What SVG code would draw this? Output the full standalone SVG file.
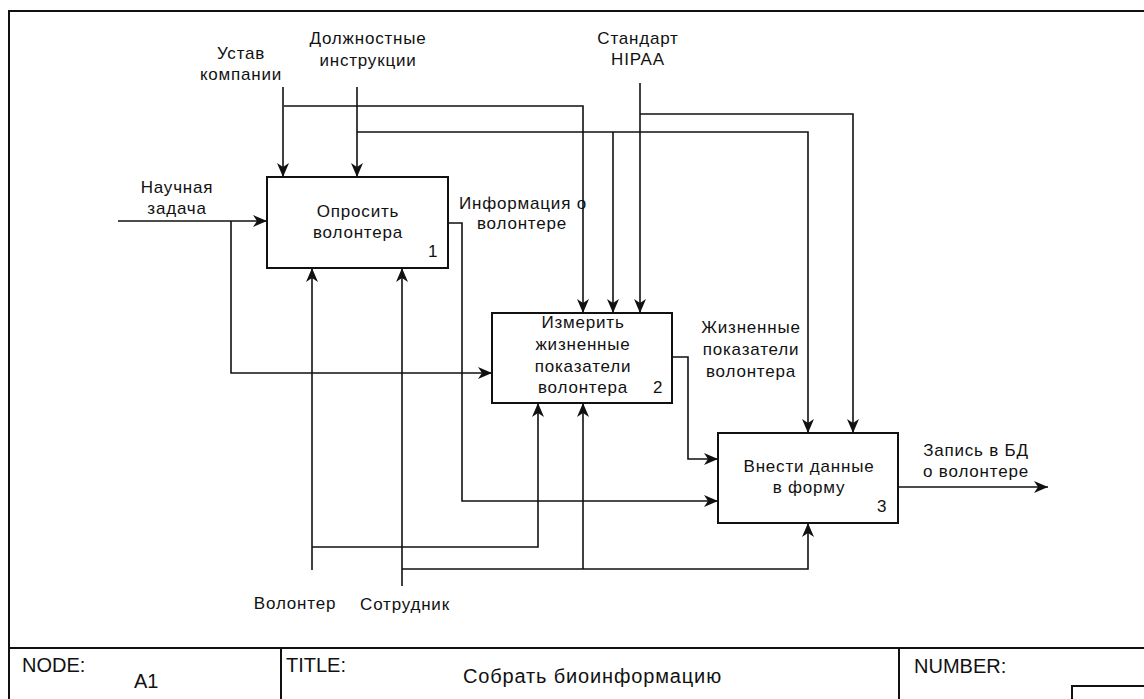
<svg xmlns="http://www.w3.org/2000/svg" width="1144" height="699" viewBox="0 0 1144 699">
  <style>
    text { font-family: "Liberation Sans", Arial, sans-serif; fill: #111; }
    .lbl { font-size: 17px; text-anchor: middle; letter-spacing: 0.8px; }
    .num { font-size: 17px; }
    .tb { font-size: 20px; }
    .ttl { letter-spacing: 0.85px; }
    .box { fill: #fff; stroke: #111; stroke-width: 2; }
    .frame { fill: none; stroke: #111; stroke-width: 2; }
    .wire { fill: none; stroke: #111; stroke-width: 1.6; }
    .arr { marker-end: url(#ah); }
  </style>
  <defs>
    <marker id="ah" markerUnits="userSpaceOnUse" markerWidth="14" markerHeight="12" viewBox="0 0 14 12" refX="14" refY="6" orient="auto">
      <path d="M0,0 L14,6 L0,12 L4,6 Z" fill="#111"/>
    </marker>
  </defs>

  <rect width="1144" height="699" fill="#fff"/>

  <!-- drawing frame and title block -->
  <g id="frame">
    <path class="frame" d="M9,699 V11 H1144"/>
    <path class="frame" d="M9,648 H1144 M281,648 V699 M899,648 V699 M1072,699 V686 H1144"/>
    <text class="tb" x="22" y="672">NODE:</text>
    <text class="tb" x="134" y="688">A1</text>
    <text class="tb" x="286" y="672">TITLE:</text>
    <text class="tb ttl" x="463" y="683">Собрать биоинформацию</text>
    <text class="tb" x="914" y="673">NUMBER:</text>
  </g>

  <!-- connectors -->
  <g id="connectors">
    <!-- input: Научная задача -->
    <path class="wire arr" d="M118,221 H267"/>
    <path class="wire arr" d="M231,221 V373 H492"/>
    <!-- control: Устав компании -->
    <path class="wire arr" d="M283,87 V177"/>
    <path class="wire arr" d="M284,106 H583 V313"/>
    <!-- control: Должностные инструкции -->
    <path class="wire arr" d="M357,87 V177"/>
    <path class="wire arr" d="M357,132 H808 V433"/>
    <path class="wire arr" d="M613,132 V313"/>
    <!-- control: Стандарт HIPAA -->
    <path class="wire arr" d="M640,83 V313"/>
    <path class="wire arr" d="M640,114 H853 V433"/>
    <!-- output 1 -> 3 -->
    <path class="wire arr" d="M448,223 H462 V501 H718"/>
    <!-- output 2 -> 3 -->
    <path class="wire arr" d="M672,357 H688 V459 H718"/>
    <!-- output 3 -->
    <path class="wire arr" d="M898,487 H1048"/>
    <!-- mechanism: Волонтер -->
    <path class="wire arr" d="M312,570 V268"/>
    <path class="wire arr" d="M312,547 H538 V403"/>
    <!-- mechanism: Сотрудник -->
    <path class="wire arr" d="M402,586 V268"/>
    <path class="wire arr" d="M402,569 H808 V523"/>
    <path class="wire arr" d="M583,569 V403"/>
  </g>

  <!-- activities -->
  <g id="a1">
    <rect class="box" x="267" y="177" width="181" height="91"/>
    <text class="lbl" x="358" y="217">Опросить</text>
    <text class="lbl" x="358" y="238">волонтера</text>
    <text class="num" x="428" y="257">1</text>
  </g>
  <g id="a2">
    <rect class="box" x="492" y="313" width="180" height="90"/>
    <text class="lbl" x="583" y="328">Измерить</text>
    <text class="lbl" x="583" y="350">жизненные</text>
    <text class="lbl" x="583" y="372">показатели</text>
    <text class="lbl" x="583" y="393">волонтера</text>
    <text class="num" x="653" y="393">2</text>
  </g>
  <g id="a3">
    <rect class="box" x="718" y="433" width="180" height="90"/>
    <text class="lbl" x="809" y="472">Внести данные</text>
    <text class="lbl" x="809" y="493">в форму</text>
    <text class="num" x="877" y="512">3</text>
  </g>

  <!-- arrow labels -->
  <g id="labels">
    <text class="lbl" x="241" y="59">Устав</text>
    <text class="lbl" x="241" y="80">компании</text>
    <text class="lbl" x="368" y="44">Должностные</text>
    <text class="lbl" x="368" y="66">инструкции</text>
    <text class="lbl" x="638" y="44">Стандарт</text>
    <text class="lbl" x="638" y="65">HIPAA</text>
    <text class="lbl" x="177" y="193">Научная</text>
    <text class="lbl" x="177" y="214">задача</text>
    <text class="lbl" x="523" y="209">Информация о</text>
    <text class="lbl" x="522" y="229">волонтере</text>
    <text class="lbl" x="751" y="333">Жизненные</text>
    <text class="lbl" x="751" y="355">показатели</text>
    <text class="lbl" x="751" y="377">волонтера</text>
    <text class="lbl" x="976" y="456">Запись в БД</text>
    <text class="lbl" x="976" y="477">о волонтере</text>
    <text class="lbl" x="295" y="609">Волонтер</text>
    <text class="lbl" x="405" y="610">Сотрудник</text>
  </g>
</svg>
